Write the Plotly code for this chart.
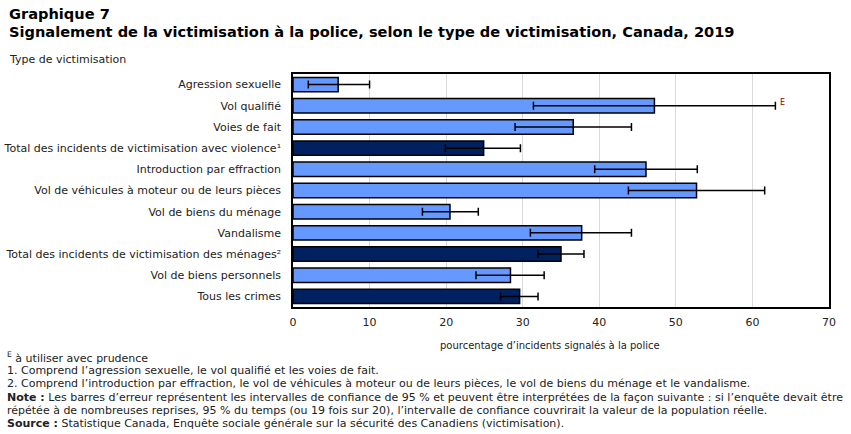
import plotly.graph_objects as go

categories = [
    "Agression sexuelle",
    "Vol qualifié",
    "Voies de fait",
    "Total des incidents de victimisation avec violence¹",
    "Introduction par effraction",
    "Vol de véhicules à moteur ou de leurs pièces",
    "Vol de biens du ménage",
    "Vandalisme",
    "Total des incidents de victimisation des ménages²",
    "Vol de biens personnels",
    "Tous les crimes",
]
values = [5.9, 47.2, 36.6, 24.9, 46.1, 52.7, 20.5, 37.7, 35.0, 28.4, 29.6]
ci_low = [2.0, 31.4, 29.0, 19.9, 39.4, 43.8, 16.9, 31.0, 32.0, 23.9, 27.1]
ci_high = [10.0, 63.0, 44.2, 29.7, 52.8, 61.6, 24.2, 44.2, 38.0, 32.8, 32.0]
is_total = [False, False, False, True, False, False, False, False, True, False, True]
use_with_caution = [False, True, False, False, False, False, False, False, False, False, False]
x_ticks = [0, 10, 20, 30, 40, 50, 60, 70]

LIGHT = "#6699FF"
DARK = "#002060"
colors = [DARK if t else LIGHT for t in is_total]

err_plus = [h - v for h, v in zip(ci_high, values)]
err_minus = [v - l for l, v in zip(ci_low, values)]

fig = go.Figure()
fig.add_trace(go.Bar(
    y=categories, x=values, orientation="h",
    marker=dict(color=colors, line=dict(color="black", width=1.5)),
    error_x=dict(type="data", symmetric=False, array=err_plus, arrayminus=err_minus,
                 color="black", thickness=1.5, width=4),
    hoverinfo="skip",
))

font_main = "DejaVu Sans, Verdana, sans-serif"

fig.update_layout(
    width=851, height=434,
    margin=dict(l=293, r=22, t=74, b=127, autoexpand=False),
    paper_bgcolor="white", plot_bgcolor="white",
    showlegend=False,
    bargap=0.32,
    xaxis=dict(range=[0, 70], tickvals=x_ticks, showgrid=True, gridcolor="#d9d9d9", gridwidth=1,
               zeroline=False, showline=True, linecolor="black", linewidth=1.5, mirror=True,
               ticks="", ticklabelstandoff=4, automargin=False,
               tickfont=dict(family=font_main, size=11, color="#222222")),
    yaxis=dict(categoryorder="array", categoryarray=categories, autorange="reversed",
               showline=True, linecolor="black", linewidth=1.5, mirror=True,
               ticks="", ticklabelstandoff=8, automargin=False,
               tickfont=dict(family=font_main, size=11, color="#222222")),
)

pl, pr, pt, pb = 293, 829, 74, 307
def ppx(xp, yp, text, size, family=font_main, anchor="left", color="#222222"):
    return dict(x=(xp - pl) / (pr - pl), y=(pb - yp) / (pb - pt), xref="paper", yref="paper",
                text=text, showarrow=False, xanchor=anchor, yanchor="middle",
                font=dict(family=family, size=size, color=color))

ann = []
for cat, h, flag in zip(categories, ci_high, use_with_caution):
    if flag:
        ann.append(dict(x=h, y=cat, xref="x", yref="y", text="E",
                        showarrow=False, xanchor="left", yanchor="middle",
                        xshift=3, yshift=3,
                        font=dict(family=font_main, size=8, color="#8b0000")))

notes = [
    ("<sup>E</sup> à utiliser avec prudence", 357),
    ("1. Comprend l’agression sexuelle, le vol qualifié et les voies de fait.", 370),
    ("2. Comprend l’introduction par effraction, le vol de véhicules à moteur ou de leurs pièces, le vol de biens du ménage et le vandalisme.", 383),
    ("<b>Note :</b> Les barres d’erreur représentent les intervalles de confiance de 95 % et peuvent être interprétées de la façon suivante : si l’enquête devait être", 397),
    ("répétée à de nombreuses reprises, 95 % du temps (ou 19 fois sur 20), l’intervalle de confiance couvrirait la valeur de la population réelle.", 410),
    ("<b>Source :</b> Statistique Canada, Enquête sociale générale sur la sécurité des Canadiens (victimisation).", 423),
]

ann.append(ppx(7, 14, "<b>Graphique 7</b>", 14.6, color="black"))
ann.append(ppx(7, 32, "<b>Signalement de la victimisation à la police, selon le type de victimisation, Canada, 2019</b>", 14.6, color="black"))
ann.append(ppx(7, 59, "Type de victimisation", 11))
ann.append(ppx(550, 345, "pourcentage d’incidents signalés à la police", 10, anchor="center"))
for t, yy in notes:
    ann.append(ppx(5, yy, t, 11))

fig.update_layout(annotations=ann)
fig.write_html("out.html")
